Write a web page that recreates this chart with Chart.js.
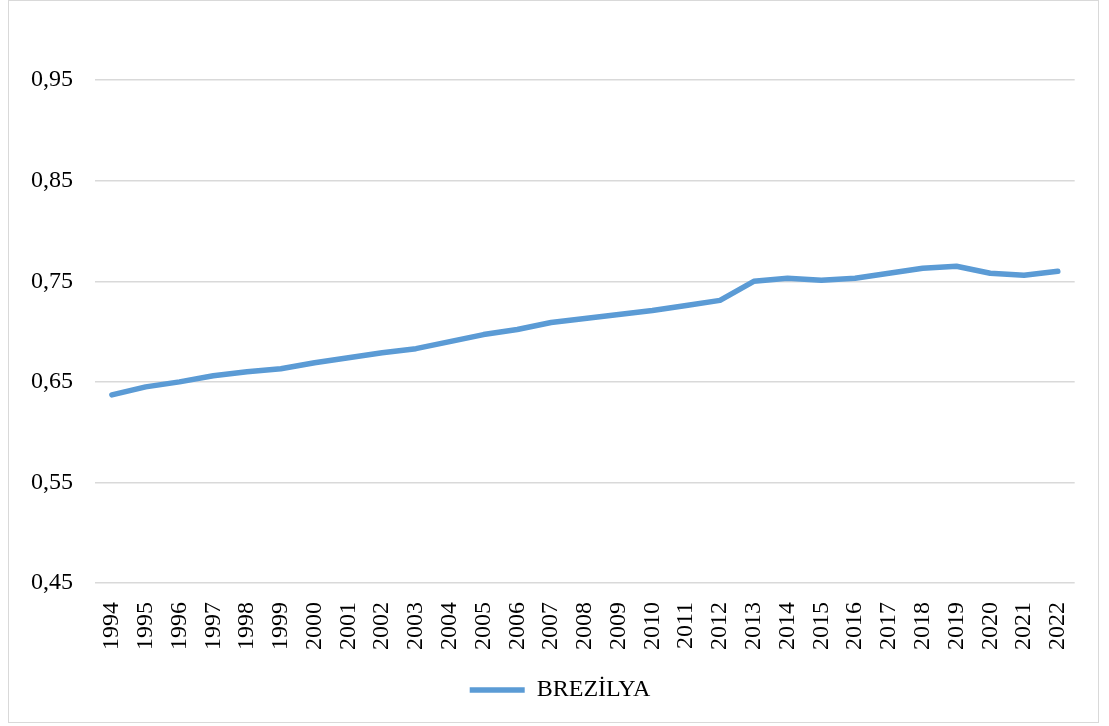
<!DOCTYPE html>
<html>
<head>
<meta charset="utf-8">
<script src="https://cdn.jsdelivr.net/npm/chart.js@4/dist/chart.umd.min.js"></script>
<style>
  html, body { margin: 0; padding: 0; background: #fff; }
  #box {
    position: absolute; left: 8px; top: 0px;
    width: 1091px; height: 723px;
    border: 1px solid #d9d9d9; box-sizing: border-box;
  }
  #chart { display: block; }
</style>
</head>
<body>
<div id="box"><canvas id="chart" width="1089" height="721"></canvas></div>
<script>
(function() {
    // yıllar ve değerler
    const years = ['1994', '1995', '1996', '1997', '1998', '1999', '2000', '2001', '2002', '2003',
                   '2004', '2005', '2006', '2007', '2008', '2009', '2010', '2011', '2012', '2013',
                   '2014', '2015', '2016', '2017', '2018', '2019', '2020', '2021', '2022'];
    const brezilya = [0.637, 0.645, 0.650, 0.656, 0.660, 0.663, 0.669, 0.674, 0.679, 0.683,
                      0.690, 0.697, 0.702, 0.709, 0.713, 0.717, 0.721, 0.726, 0.731, 0.750,
                      0.753, 0.751, 0.753, 0.758, 0.763, 0.765, 0.758, 0.756, 0.760];
    const yTicks = [0.45, 0.55, 0.65, 0.75, 0.85, 0.95];

    const font = { family: '"Liberation Serif", "Times New Roman", serif', size: 24 };
    const blue = '#5b9bd5';

    // lejantı biraz sağa kaydır (Excel'deki gibi ortalansın)
    const legendShift = {
        id: 'legendShift',
        afterLayout(chart) {
            if (chart.legend) {
                chart.legend.left += 18;
                chart.legend.right += 18;
            }
        }
    };

    new Chart(document.getElementById('chart').getContext('2d'), {
        type: 'line',
        data: {
            labels: years,
            datasets: [{
                label: 'BREZİLYA',
                data: brezilya,
                borderColor: blue,
                backgroundColor: blue,
                borderWidth: 5.5,
                borderCapStyle: 'round',
                borderJoinStyle: 'round',
                pointRadius: 0,
                tension: 0,
                fill: false
            }]
        },
        plugins: [legendShift],
        options: {
            responsive: false,
            animation: false,
            layout: { padding: { left: 0, right: 23, top: 7, bottom: 10 } },
            plugins: {
                tooltip: { enabled: false },
                legend: {
                    position: 'bottom',
                    labels: {
                        font: font,
                        color: '#000',
                        usePointStyle: true,
                        pointStyle: 'line',
                        pointStyleWidth: 55,
                        padding: 17
                    }
                }
            },
            scales: {
                x: {
                    offset: true,
                    grid: { display: false },
                    border: { display: false },
                    ticks: {
                        font: font,
                        color: '#000',
                        minRotation: 90,
                        maxRotation: 90,
                        autoSkip: false,
                        padding: 11
                    }
                },
                y: {
                    min: 0.45,
                    max: 0.9925,
                    afterBuildTicks: axis => {
                        axis.ticks = yTicks.map(v => ({ value: v }));
                    },
                    grid: { color: '#d9d9d9', lineWidth: 1.5, drawTicks: false },
                    border: { display: false },
                    ticks: {
                        font: font,
                        color: '#000',
                        padding: 22,
                        callback: v => v.toFixed(2).replace('.', ',')
                    }
                }
            }
        }
    });
})();
</script>
</body>
</html>
